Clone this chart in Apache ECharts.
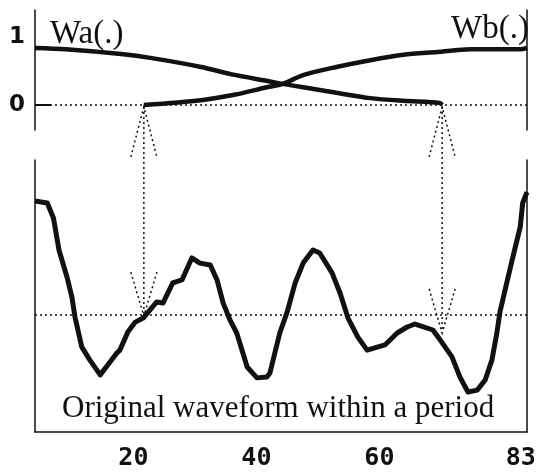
<!DOCTYPE html>
<html>
<head>
<meta charset="utf-8">
<script src="https://cdn.jsdelivr.net/npm/echarts@6/dist/echarts.min.js"></script>
<style>
  html, body { margin: 0; padding: 0; background: #fff; }
  #chart { width: 539px; height: 474px; }
</style>
</head>
<body>
<div id="chart"></div>
<script>
// top panel: the two cross-fade windows (x = sample index)
const waX = [4, 9, 18, 23, 31, 36, 42, 44.3, 47.6, 53, 58.5, 63.9, 69.8, 70.2]
const waY = [0.84, 0.82, 0.75, 0.69, 0.56, 0.45, 0.35, 0.31, 0.26, 0.18, 0.10, 0.06, 0.03, 0]
const wbX = [21.7, 31, 36.4, 41.7, 44.3, 47.6, 53, 58.5, 63.9, 69.4, 74.8, 82.9, 84]
const wbY = [0, 0.07, 0.15, 0.26, 0.31, 0.44, 0.56, 0.66, 0.74, 0.78, 0.82, 0.82, 0.84]

// bottom panel: original waveform within a period
const waveX = [4, 6, 7, 7.9, 9.2, 10, 10.5, 11.6, 12.9, 14.6, 16.2, 17.3, 17.8, 19.1, 20.3, 21.6,
  22.7, 23.8, 24.8, 26.4, 27.9, 29.5, 30.8, 32.5, 33.6, 34.6, 35.7, 36.8, 38.5, 40.1, 41.7, 42.2,
  43.8, 45, 46.3, 47.6, 49.2, 50.3, 52.3, 53.6, 54.9, 56.5, 58, 60.9, 62.9, 64.5, 65.8, 68.7,
  69.9, 71.8, 73.1, 74.4, 75.9, 77.2, 78.3, 79.1, 79.6, 80.7, 81.7, 82.9, 83.3, 84]
const waveY = [84.9, 84.2, 78.7, 66.9, 57, 49.6, 42.3, 31.3, 26.5, 21, 25.7, 29, 30.1, 36.8, 40.4, 41.9,
  44.9, 47.8, 47.4, 54.8, 55.9, 64, 62.1, 61.4, 55.9, 47.4, 41.2, 36.4, 23.9, 19.9, 20.2, 21.7,
  36.4, 44.1, 54.8, 62.1, 66.9, 65.8, 58.5, 51.1, 41.9, 34.9, 30.1, 32, 36.4, 38.6, 39.7, 37.5,
  33.8, 27.6, 20.2, 14.7, 15.4, 19.1, 26.5, 36.4, 44.1, 54.8, 64.3, 75.4, 84.2, 88.2]
const refLevel = 43

// arrows from the window ends down to the waveform
const arrowX = [21.7, 70.2]
const arrowTipY = [42.6, 36.4]

const xTicks = [20, 40, 60, 83]
const winTicks = [0, 1]

const ink = '#111'
const chart = echarts.init(document.getElementById('chart'))

function pairs(xs, ys) {
  return xs.map((x, i) => [x, ys[i]])
}

const axisLine = { show: true, lineStyle: { color: ink, width: 1.5 } }

chart.setOption({
  backgroundColor: '#ffffff',
  animation: false,
  grid: [
    { left: 35, right: 12, top: 10, height: 120 },
    { left: 35, right: 12, top: 160, bottom: 42 }
  ],
  xAxis: [
    { gridIndex: 0, type: 'value', min: 4, max: 84, show: false },
    {
      gridIndex: 1,
      type: 'value',
      min: 4,
      max: 84,
      axisLine: axisLine,
      axisTick: { show: false },
      splitLine: { show: false },
      axisLabel: {
        customValues: xTicks,
        margin: 14,
        color: ink,
        fontFamily: 'DejaVu Sans Mono',
        fontWeight: 'bold',
        fontSize: 25
      }
    }
  ],
  yAxis: [
    {
      gridIndex: 0,
      type: 'value',
      min: -0.37,
      max: 1.4,
      axisLine: axisLine,
      splitLine: { show: false },
      axisTick: { show: true, inside: true, length: 16, customValues: [0], lineStyle: { color: ink, width: 2 } },
      axisLabel: {
        customValues: winTicks,
        margin: 10,
        color: ink,
        fontFamily: 'DejaVu Sans',
        fontWeight: 'bold',
        fontSize: 23
      }
    },
    {
      gridIndex: 0,
      type: 'value',
      position: 'right',
      min: -0.37,
      max: 1.4,
      axisLine: axisLine,
      axisTick: { show: false },
      axisLabel: { show: false },
      splitLine: { show: false }
    },
    {
      gridIndex: 1,
      type: 'value',
      min: 0,
      max: 100,
      axisLine: axisLine,
      axisTick: { show: false },
      axisLabel: { show: false },
      splitLine: { show: false }
    },
    {
      gridIndex: 1,
      type: 'value',
      position: 'right',
      min: 0,
      max: 100,
      axisLine: axisLine,
      axisTick: { show: false },
      axisLabel: { show: false },
      splitLine: { show: false }
    }
  ],
  series: [
    {
      name: 'Wa(.)',
      type: 'line',
      xAxisIndex: 0,
      yAxisIndex: 0,
      data: pairs(waX, waY),
      smooth: 0.3,
      showSymbol: false,
      lineStyle: { color: ink, width: 4.5 },
      markLine: {
        silent: true,
        symbol: 'none',
        label: { show: false },
        lineStyle: { color: ink, width: 1.5, type: [2, 3] },
        data: [{ yAxis: 0 }]
      },
      z: 3
    },
    {
      name: 'Wb(.)',
      type: 'line',
      xAxisIndex: 0,
      yAxisIndex: 0,
      data: pairs(wbX, wbY),
      smooth: 0.3,
      showSymbol: false,
      lineStyle: { color: ink, width: 4.5 },
      z: 3
    },
    {
      name: 'waveform',
      type: 'line',
      xAxisIndex: 1,
      yAxisIndex: 2,
      data: pairs(waveX, waveY),
      showSymbol: false,
      lineStyle: { color: ink, width: 5, join: 'round' },
      markLine: {
        silent: true,
        symbol: 'none',
        label: { show: false },
        lineStyle: { color: ink, width: 1.5, type: [2, 3] },
        data: [{ yAxis: refLevel }]
      },
      z: 3
    }
  ]
})

// captions and the dotted double arrows (positions come from the axes)
function drawOverlay() {
  const graphics = []
  const dot = { stroke: ink, lineWidth: 1.5, lineDash: [2, 3] }
  arrowX.forEach((x, i) => {
    const top = chart.convertToPixel({ gridIndex: 0 }, [x, 0])
    const bot = chart.convertToPixel({ gridIndex: 1 }, [x, arrowTipY[i]])
    top[1] += 2
    graphics.push({ type: 'line', shape: { x1: top[0], y1: top[1], x2: bot[0], y2: bot[1] }, style: dot, z: 5 })
    // head pointing up at the window end
    graphics.push({ type: 'polyline', shape: { points: [[top[0] - 13, top[1] + 50], top, [top[0] + 13, top[1] + 50]] }, style: Object.assign({ fill: null }, dot), z: 5 })
    // head pointing down at the waveform
    graphics.push({ type: 'polyline', shape: { points: [[bot[0] - 13, bot[1] - 44], bot, [bot[0] + 13, bot[1] - 44]] }, style: Object.assign({ fill: null }, dot), z: 5 })
  })
  const serif = { fill: ink, fontFamily: 'Liberation Serif', fontSize: 33, verticalAlign: 'middle' }
  graphics.push({ type: 'text', x: 50, y: 34, style: Object.assign({ text: 'Wa(.)', align: 'left' }, serif), z: 6 })
  graphics.push({ type: 'text', x: 529, y: 29, style: Object.assign({ text: 'Wb(.)', align: 'right' }, serif), z: 6 })
  graphics.push({
    type: 'text', x: 62, y: 409,
    style: Object.assign({ text: 'Original waveform within a period', align: 'left' }, serif, { fontSize: 31 }),
    z: 6
  })
  chart.setOption({ graphic: graphics })
}

drawOverlay()
</script>
</body>
</html>
